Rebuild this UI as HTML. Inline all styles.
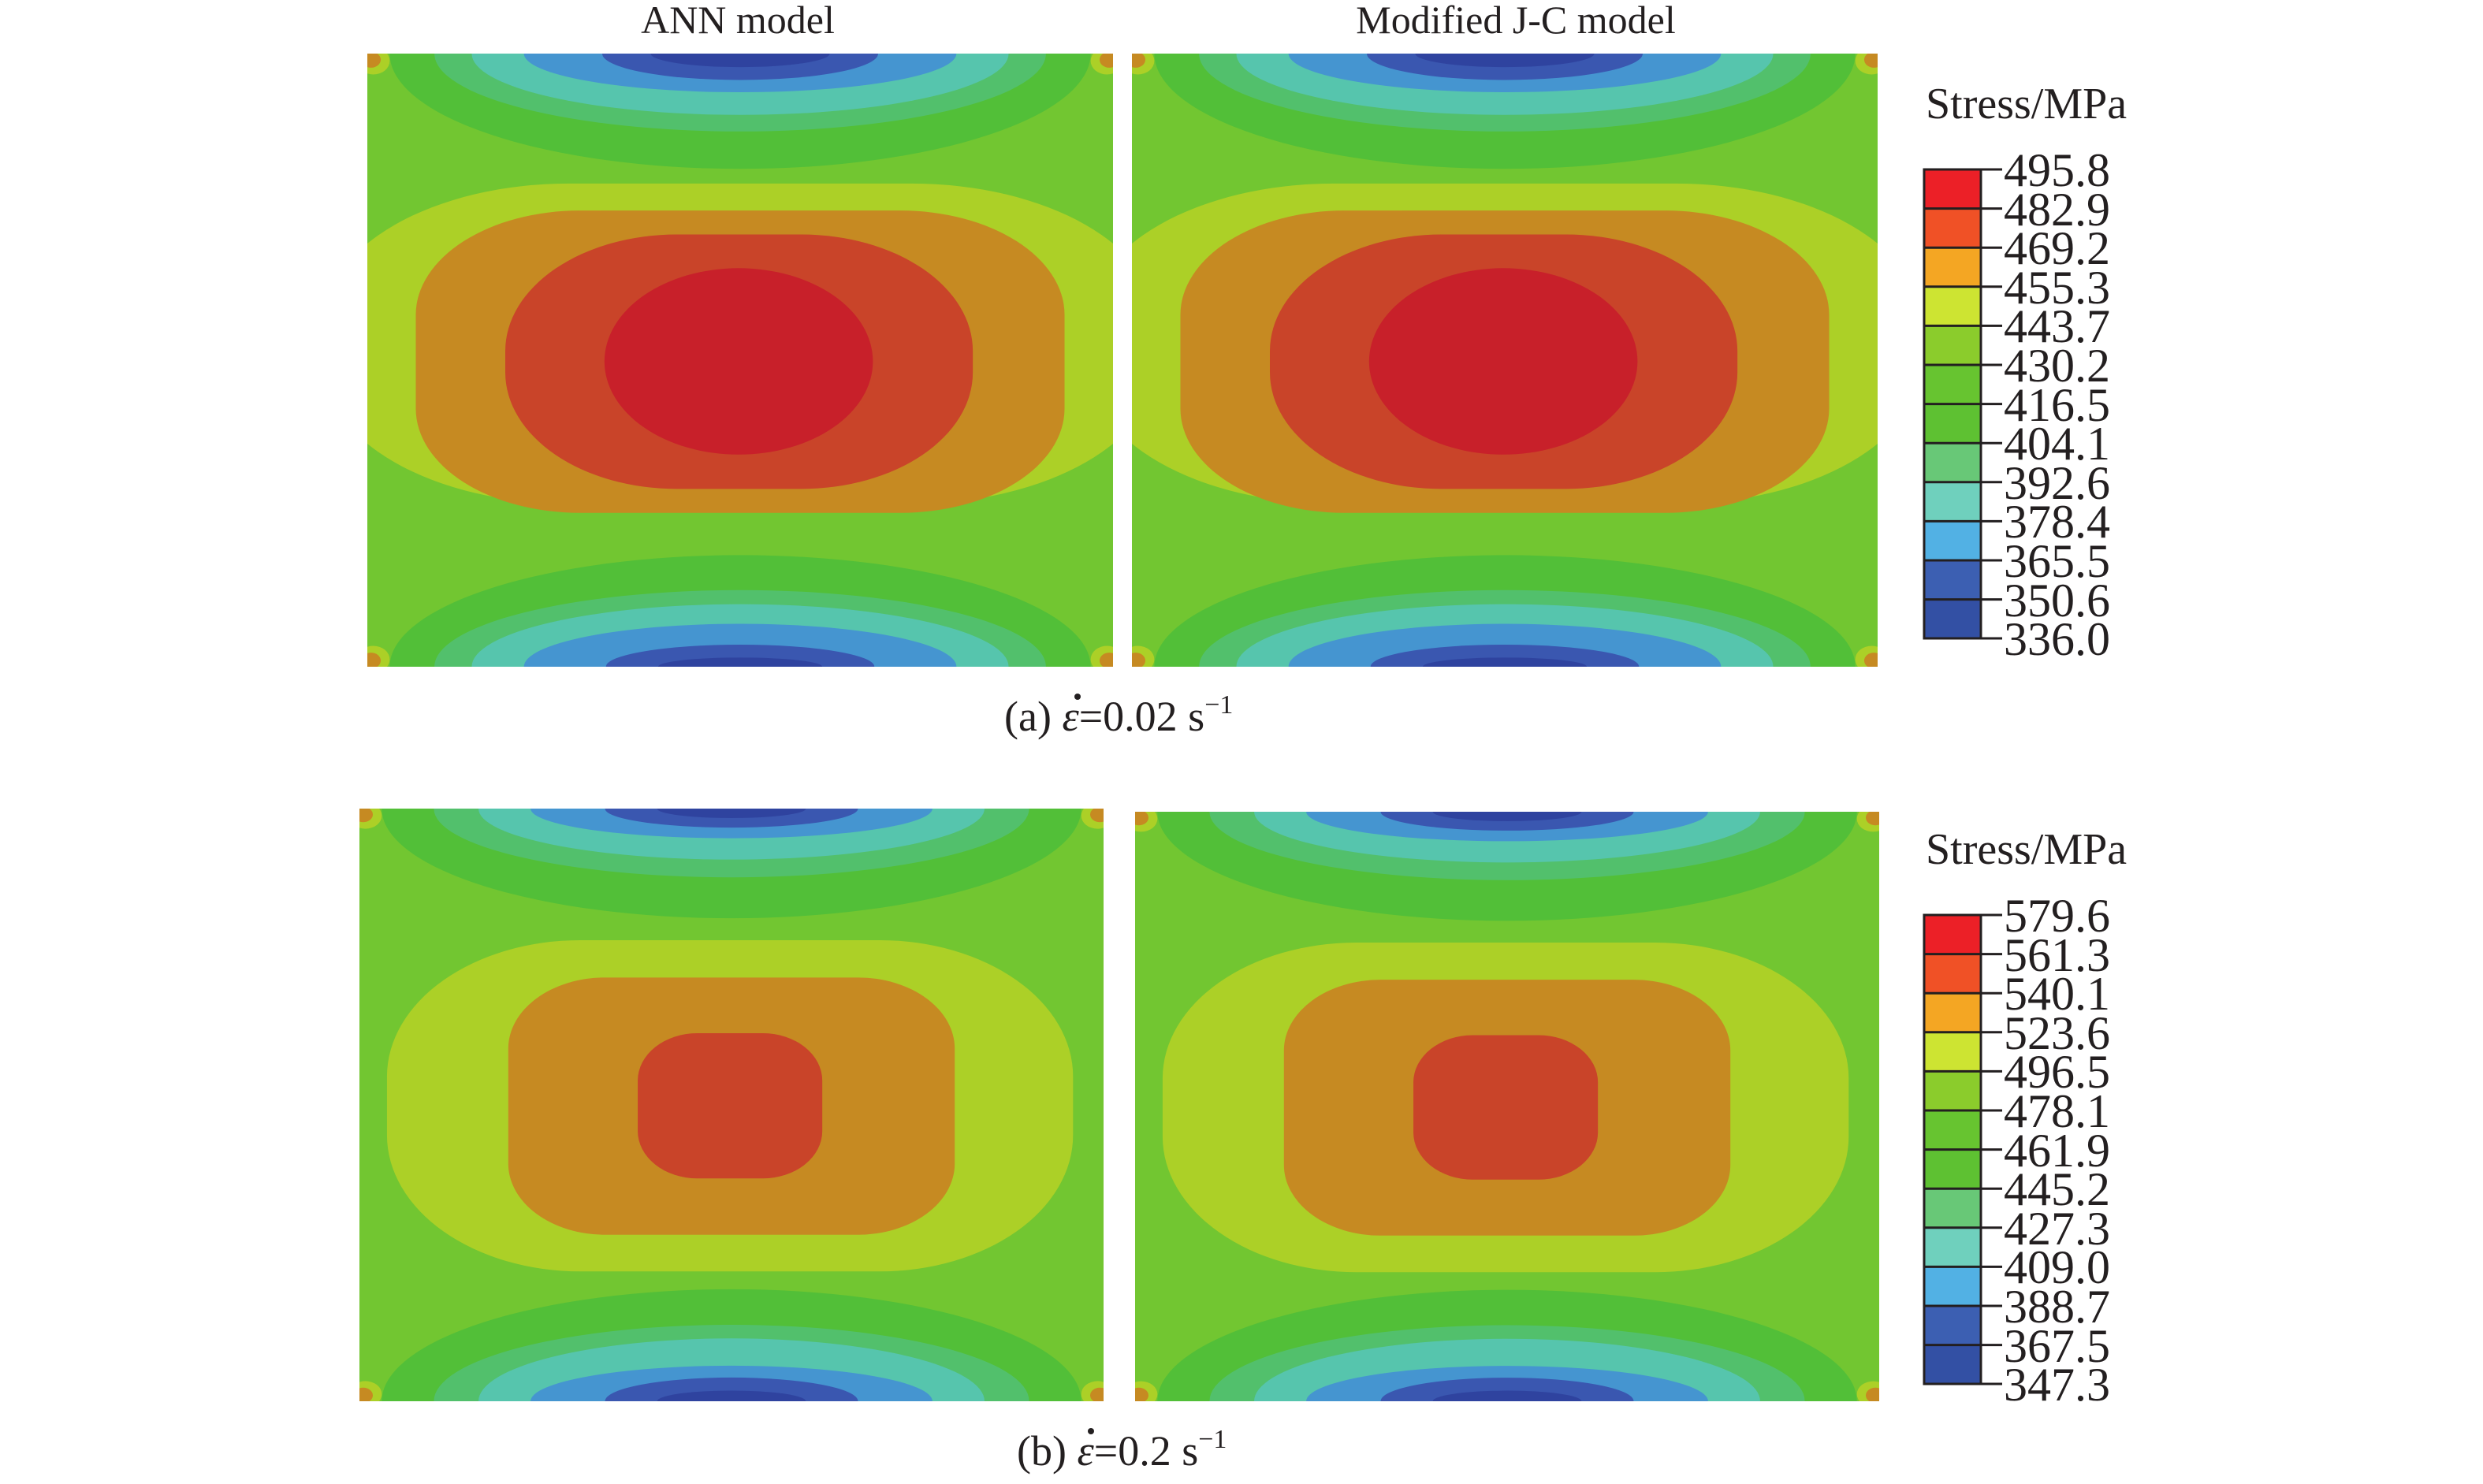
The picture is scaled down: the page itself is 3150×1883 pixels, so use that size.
<!DOCTYPE html>
<html><head><meta charset="utf-8"><style>
html,body{margin:0;padding:0;background:#fff;}
svg text{font-family:"Liberation Serif",serif;fill:#231f20;}
</style></head><body>
<svg width="3150" height="1878" viewBox="0 0 3150 1878" xmlns="http://www.w3.org/2000/svg">
<defs>
<g id="pa">
  <rect x="0" y="0" width="1000" height="1000" fill="#72c631"/>
  <ellipse cx="500" cy="0" rx="470" ry="188" fill="#52bf38"/>
  <ellipse cx="500" cy="0" rx="410" ry="127" fill="#52c06c"/>
  <ellipse cx="500" cy="0" rx="360" ry="100" fill="#56c5ad"/>
  <ellipse cx="500" cy="0" rx="290" ry="63" fill="#4595d0"/>
  <ellipse cx="500" cy="0" rx="185" ry="43" fill="#3a57b0"/>
  <ellipse cx="500" cy="0" rx="120" ry="22" fill="#2f439f"/>
  <ellipse cx="500" cy="1000" rx="470" ry="182" fill="#52bf38"/>
  <ellipse cx="500" cy="1000" rx="410" ry="125" fill="#52c06c"/>
  <ellipse cx="500" cy="1000" rx="360" ry="102" fill="#56c5ad"/>
  <ellipse cx="500" cy="1000" rx="290" ry="70" fill="#4595d0"/>
  <ellipse cx="500" cy="1000" rx="180" ry="36" fill="#3a57b0"/>
  <ellipse cx="500" cy="1000" rx="110" ry="15" fill="#2f439f"/>
  <rect x="-60" y="212" width="1120" height="522" rx="330" ry="230" fill="#acd027"/>
  <rect x="65" y="256" width="870" height="493" rx="220" ry="170" fill="#c68a22"/>
  <rect x="185" y="295" width="627" height="415" rx="230" ry="190" fill="#c94429"/>
  <ellipse cx="498" cy="502" rx="180" ry="152" fill="#c8202a"/>
  <circle cx="8" cy="12" r="22" fill="#acd027"/><circle cx="5" cy="10" r="13" fill="#c68a22"/>
  <circle cx="992" cy="12" r="22" fill="#acd027"/><circle cx="995" cy="10" r="13" fill="#c68a22"/>
  <circle cx="8" cy="988" r="22" fill="#acd027"/><circle cx="5" cy="990" r="13" fill="#c68a22"/>
  <circle cx="992" cy="988" r="22" fill="#acd027"/><circle cx="995" cy="990" r="13" fill="#c68a22"/>
</g>
<g id="pb">
  <rect x="0" y="0" width="1000" height="1000" fill="#72c631"/>
  <ellipse cx="500" cy="0" rx="470" ry="185" fill="#52bf38"/>
  <ellipse cx="500" cy="0" rx="400" ry="116" fill="#52c06c"/>
  <ellipse cx="500" cy="0" rx="340" ry="86" fill="#56c5ad"/>
  <ellipse cx="500" cy="0" rx="270" ry="50" fill="#4595d0"/>
  <ellipse cx="500" cy="0" rx="170" ry="32" fill="#3a57b0"/>
  <ellipse cx="500" cy="0" rx="100" ry="16" fill="#2f439f"/>
  <ellipse cx="500" cy="1000" rx="470" ry="189" fill="#52bf38"/>
  <ellipse cx="500" cy="1000" rx="400" ry="129" fill="#52c06c"/>
  <ellipse cx="500" cy="1000" rx="340" ry="106" fill="#56c5ad"/>
  <ellipse cx="500" cy="1000" rx="270" ry="60" fill="#4595d0"/>
  <ellipse cx="500" cy="1000" rx="170" ry="40" fill="#3a57b0"/>
  <ellipse cx="500" cy="1000" rx="100" ry="18" fill="#2f439f"/>
  <rect x="37" y="222" width="922" height="559" rx="260" ry="230" fill="#acd027"/>
  <rect x="200" y="285" width="600" height="434" rx="130" ry="120" fill="#c68a22"/>
  <rect x="374" y="379" width="248" height="245" rx="80" ry="80" fill="#c94429"/>
  <circle cx="8" cy="12" r="22" fill="#acd027"/><circle cx="5" cy="10" r="13" fill="#c68a22"/>
  <circle cx="992" cy="12" r="22" fill="#acd027"/><circle cx="995" cy="10" r="13" fill="#c68a22"/>
  <circle cx="8" cy="988" r="22" fill="#acd027"/><circle cx="5" cy="990" r="13" fill="#c68a22"/>
  <circle cx="992" cy="988" r="22" fill="#acd027"/><circle cx="995" cy="990" r="13" fill="#c68a22"/>
</g>
</defs>

<text x="936" y="42" font-size="50" text-anchor="middle">ANN model</text>
<text x="1923" y="42" font-size="50" text-anchor="middle">Modified J-C model</text>

<svg x="466" y="68" width="946" height="778" viewBox="0 0 1000 1000" preserveAspectRatio="none"><use href="#pa"/></svg>
<svg x="1436" y="68" width="946" height="778" viewBox="0 0 1000 1000" preserveAspectRatio="none"><use href="#pa"/></svg>
<svg x="456" y="1026" width="944" height="752" viewBox="0 0 1000 1000" preserveAspectRatio="none"><use href="#pb"/></svg>
<svg x="1440" y="1030" width="944" height="748" viewBox="0 0 1000 1000" preserveAspectRatio="none"><use href="#pb"/></svg>

<text x="1274" y="927" font-size="54">(a) <tspan font-style="italic">ε</tspan>=0.02 s<tspan font-size="34" dy="-22">−1</tspan></text>
<circle cx="1367" cy="884" r="4" fill="#231f20"/>
<text x="1290" y="1859" font-size="54">(b) <tspan font-style="italic">ε</tspan>=0.2 s<tspan font-size="34" dy="-22">−1</tspan></text>
<circle cx="1384" cy="1816" r="4" fill="#231f20"/>

<!-- colorbar a -->
<g>
<text x="2443" y="150" font-size="56">Stress/MPa</text>
<rect x="2441" y="215" width="72" height="49.6" fill="#ec2027"/>
<rect x="2441" y="264.6" width="72" height="49.6" fill="#f05126"/>
<rect x="2441" y="314.2" width="72" height="49.6" fill="#f4a623"/>
<rect x="2441" y="363.8" width="72" height="49.6" fill="#cde432"/>
<rect x="2441" y="413.4" width="72" height="49.6" fill="#8bcc2c"/>
<rect x="2441" y="463" width="72" height="49.6" fill="#67c430"/>
<rect x="2441" y="512.6" width="72" height="49.6" fill="#5ec132"/>
<rect x="2441" y="562.2" width="72" height="49.6" fill="#68c877"/>
<rect x="2441" y="611.8" width="72" height="49.6" fill="#6fd0bd"/>
<rect x="2441" y="661.4" width="72" height="49.6" fill="#52b1e4"/>
<rect x="2441" y="711" width="72" height="49.6" fill="#3c5fb2"/>
<rect x="2441" y="760.6" width="72" height="49.4" fill="#3350a4"/>
<rect x="2441" y="215" width="72" height="595" fill="none" stroke="#231f20" stroke-width="3"/>
<g stroke="#231f20" stroke-width="3">
<line x1="2441" x2="2540" y1="215" y2="215"/><line x1="2441" x2="2540" y1="264.6" y2="264.6"/><line x1="2441" x2="2540" y1="314.2" y2="314.2"/><line x1="2441" x2="2540" y1="363.8" y2="363.8"/><line x1="2441" x2="2540" y1="413.4" y2="413.4"/><line x1="2441" x2="2540" y1="463" y2="463"/><line x1="2441" x2="2540" y1="512.6" y2="512.6"/><line x1="2441" x2="2540" y1="562.2" y2="562.2"/><line x1="2441" x2="2540" y1="611.8" y2="611.8"/><line x1="2441" x2="2540" y1="661.4" y2="661.4"/><line x1="2441" x2="2540" y1="711" y2="711"/><line x1="2441" x2="2540" y1="760.6" y2="760.6"/><line x1="2441" x2="2540" y1="810" y2="810"/>
</g>
<g font-size="60">
<text x="2542" y="236">495.8</text><text x="2542" y="286">482.9</text><text x="2542" y="335">469.2</text><text x="2542" y="385">455.3</text><text x="2542" y="434">443.7</text><text x="2542" y="484">430.2</text><text x="2542" y="534">416.5</text><text x="2542" y="583">404.1</text><text x="2542" y="633">392.6</text><text x="2542" y="682">378.4</text><text x="2542" y="732">365.5</text><text x="2542" y="782">350.6</text><text x="2542" y="831">336.0</text>
</g>
</g>

<!-- colorbar b -->
<g transform="translate(0,946)">
<text x="2443" y="150" font-size="56">Stress/MPa</text>
<rect x="2441" y="215" width="72" height="49.6" fill="#ec2027"/>
<rect x="2441" y="264.6" width="72" height="49.6" fill="#f05126"/>
<rect x="2441" y="314.2" width="72" height="49.6" fill="#f4a623"/>
<rect x="2441" y="363.8" width="72" height="49.6" fill="#cde432"/>
<rect x="2441" y="413.4" width="72" height="49.6" fill="#8bcc2c"/>
<rect x="2441" y="463" width="72" height="49.6" fill="#67c430"/>
<rect x="2441" y="512.6" width="72" height="49.6" fill="#5ec132"/>
<rect x="2441" y="562.2" width="72" height="49.6" fill="#68c877"/>
<rect x="2441" y="611.8" width="72" height="49.6" fill="#6fd0bd"/>
<rect x="2441" y="661.4" width="72" height="49.6" fill="#52b1e4"/>
<rect x="2441" y="711" width="72" height="49.6" fill="#3c5fb2"/>
<rect x="2441" y="760.6" width="72" height="49.4" fill="#3350a4"/>
<rect x="2441" y="215" width="72" height="595" fill="none" stroke="#231f20" stroke-width="3"/>
<g stroke="#231f20" stroke-width="3">
<line x1="2441" x2="2540" y1="215" y2="215"/><line x1="2441" x2="2540" y1="264.6" y2="264.6"/><line x1="2441" x2="2540" y1="314.2" y2="314.2"/><line x1="2441" x2="2540" y1="363.8" y2="363.8"/><line x1="2441" x2="2540" y1="413.4" y2="413.4"/><line x1="2441" x2="2540" y1="463" y2="463"/><line x1="2441" x2="2540" y1="512.6" y2="512.6"/><line x1="2441" x2="2540" y1="562.2" y2="562.2"/><line x1="2441" x2="2540" y1="611.8" y2="611.8"/><line x1="2441" x2="2540" y1="661.4" y2="661.4"/><line x1="2441" x2="2540" y1="711" y2="711"/><line x1="2441" x2="2540" y1="760.6" y2="760.6"/><line x1="2441" x2="2540" y1="810" y2="810"/>
</g>
<g font-size="60">
<text x="2542" y="236">579.6</text><text x="2542" y="286">561.3</text><text x="2542" y="335">540.1</text><text x="2542" y="385">523.6</text><text x="2542" y="434">496.5</text><text x="2542" y="484">478.1</text><text x="2542" y="534">461.9</text><text x="2542" y="583">445.2</text><text x="2542" y="633">427.3</text><text x="2542" y="682">409.0</text><text x="2542" y="732">388.7</text><text x="2542" y="782">367.5</text><text x="2542" y="831">347.3</text>
</g>
</g>
</svg>
</body></html>
